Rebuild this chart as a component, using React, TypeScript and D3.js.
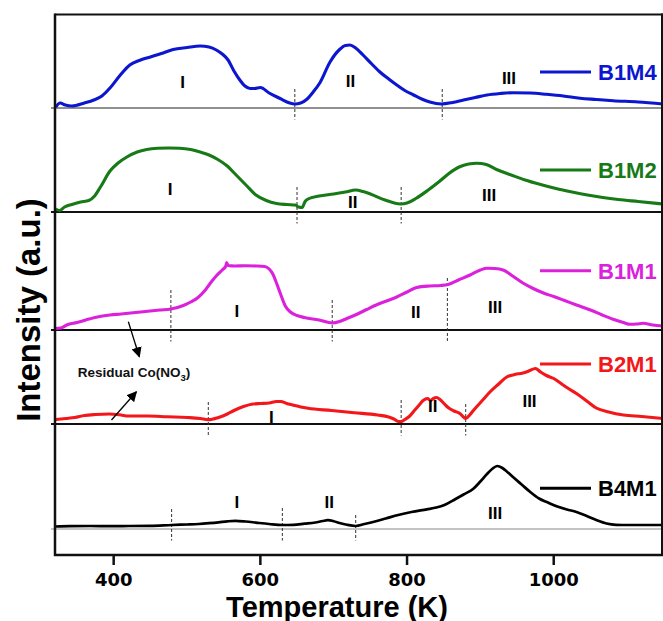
import React from 'react';
import * as d3 from 'd3';

type P = [number, number];

const seriesNames = ['B1M4', 'B1M2', 'B1M1', 'B2M1', 'B4M1'];
const seriesColors = ['#0c16cf', '#177a17', '#db21db', '#f2171a', '#000000'];
const baselineOffsets = [44.7, 34.3, 22.5, 13.1, 2.6];

const b1m4: P[] = [[321,0.1],[327,0.5],[334,0.3],[343,0.2],[360,0.5],[373,0.8],[384,1.2],[395,2.0],[408,3.2],[422,4.3],[435,4.75],[450,5.1],[465,5.45],[481,5.85],[500,6.05],[518,6.2],[530,6.1],[540,5.8],[548,5.4],[556,4.8],[564,3.7],[572,2.8],[579,2.2],[586,1.95],[592,1.95],[600,2.05],[612,1.5],[627,0.95],[640,0.5],[647,0.4],[655,0.5],[663,0.85],[672,1.6],[681,2.5],[695,4.6],[708,5.85],[716,6.25],[722,6.3],[730,6.0],[740,5.3],[752,4.4],[763,3.6],[775,2.9],[786,2.3],[797,1.75],[809,1.3],[820,0.9],[831,0.6],[847,0.4],[862,0.55],[877,0.8],[893,1.05],[909,1.3],[927,1.45],[945,1.53],[968,1.5],[990,1.37],[1013,1.2],[1036,0.97],[1058,0.85],[1081,0.73],[1115,0.6],[1149,0.4]];

const b1m2: P[] = [[321,0.3],[326,0.15],[333,0.5],[343,0.75],[355,1.0],[366,1.15],[374,1.6],[382,2.5],[395,4.1],[406,4.9],[418,5.5],[432,6.0],[445,6.25],[460,6.37],[475,6.4],[490,6.38],[505,6.25],[518,6.0],[530,5.7],[542,5.25],[554,4.65],[567,3.7],[581,2.65],[594,1.7],[608,1.15],[622,0.85],[636,0.75],[648,0.7],[652,0.5],[657,0.45],[661,1.05],[665,1.3],[680,1.6],[700,1.8],[716,2.0],[730,2.2],[740,2.05],[750,1.8],[770,1.2],[791,0.8],[800,0.9],[812,1.35],[828,2.15],[844,3.05],[858,3.9],[871,4.5],[884,4.8],[895,4.87],[908,4.75],[922,4.25],[942,3.7],[961,3.2],[982,2.75],[1003,2.35],[1025,2.0],[1046,1.7],[1067,1.45],[1088,1.25],[1115,1.05],[1149,0.8]];

const b1m1: P[] = [[320,0.15],[328,0.2],[336,0.5],[350,0.75],[362,1.0],[381,1.35],[395,1.5],[410,1.6],[437,1.8],[463,2.0],[478,2.1],[495,2.45],[505,2.8],[515,3.25],[525,4.0],[533,4.8],[541,5.5],[548,6.0],[553,6.4],[554,6.75],[556,6.45],[565,6.4],[580,6.42],[595,6.4],[606,6.35],[612,6.1],[617,5.6],[622,4.7],[628,3.5],[634,2.4],[641,1.8],[650,1.45],[660,1.25],[680,1.0],[698,0.7],[708,0.85],[718,1.15],[731,1.55],[745,2.05],[758,2.5],[772,2.9],[786,3.3],[800,3.8],[813,4.25],[831,4.4],[846,4.45],[856,4.55],[870,5.0],[886,5.5],[900,6.0],[909,6.17],[920,6.15],[931,6.0],[944,5.4],[958,4.7],[972,4.15],[986,3.7],[1000,3.35],[1013,3.0],[1031,2.5],[1050,2.0],[1066,1.5],[1081,1.07],[1095,0.75],[1104,0.57],[1113,0.6],[1122,0.67],[1135,0.5],[1149,0.4]];

const b2m1: P[] = [[321,0.45],[335,0.55],[347,0.65],[360,0.85],[375,0.95],[394,1.0],[410,0.9],[420,0.8],[447,0.8],[473,0.72],[500,0.65],[518,0.55],[529,0.42],[543,0.65],[555,1.0],[564,1.35],[577,1.75],[590,2.0],[600,2.05],[612,2.1],[622,2.25],[628,2.25],[636,2.05],[644,1.9],[655,1.7],[665,1.57],[697,1.35],[728,1.13],[760,0.9],[775,0.7],[782,0.5],[788,0.25],[792,0.25],[797,0.45],[803,0.75],[810,1.35],[816,1.85],[822,2.35],[828,2.55],[832,2.35],[836,2.55],[840,2.65],[845,2.45],[851,2.0],[856,1.65],[864,1.3],[872,1.05],[877,0.7],[880,0.55],[886,0.95],[891,1.4],[902,2.3],[913,3.2],[925,4.0],[936,4.7],[947,4.95],[958,5.1],[966,5.3],[975,5.55],[982,5.2],[990,4.85],[1000,4.55],[1010,4.05],[1020,3.55],[1031,3.05],[1045,2.3],[1058,1.6],[1075,1.2],[1095,0.9],[1120,0.75],[1149,0.55]];

const b4m1: P[] = [[320,0.25],[340,0.28],[368,0.3],[395,0.28],[421,0.3],[450,0.32],[479,0.4],[500,0.45],[516,0.5],[530,0.58],[543,0.67],[555,0.77],[566,0.82],[580,0.75],[596,0.62],[612,0.5],[630,0.4],[645,0.42],[660,0.53],[675,0.65],[685,0.8],[692,0.88],[700,0.78],[708,0.6],[718,0.42],[730,0.3],[742,0.5],[755,0.73],[771,1.05],[788,1.4],[806,1.7],[827,1.97],[840,2.15],[851,2.4],[865,2.95],[877,3.45],[890,4.0],[900,4.75],[909,5.5],[916,6.0],[923,6.3],[930,6.1],[936,5.75],[946,5.1],[957,4.4],[968,3.7],[980,3.05],[992,2.65],[1005,2.25],[1018,1.95],[1031,1.7],[1045,1.3],[1058,0.9],[1072,0.55],[1085,0.42],[1100,0.4],[1125,0.4],[1149,0.4]];

const seriesData: P[][] = [b1m4, b1m2, b1m1, b2m1, b4m1];

const xTicks = [400, 600, 800, 1000];

// region dividers per series: [temperature, top of dashed mark (a.u. above baseline)]
const dividers: P[][] = [
  [[647, 1.9], [848, 1.9]],
  [[650, 2.5], [792, 2.5]],
  [[478, 4.0], [698, 3.0], [855, 5.2]],
  [[529, 2.2], [792, 2.4], [880, 2.0]],
  [[479, 2.0], [630, 2.1], [730, 1.4]],
];

// region labels per series: [text, temperature, a.u. above baseline]
const regionLabels: [string, number, number][][] = [
  [['I', 494, 2.0], ['II', 723, 2.1], ['III', 939, 2.4]],
  [['I', 477, 1.7], ['II', 726, 0.37], ['III', 912, 1.1]],
  [['I', 568, 1.27], ['II', 812, 1.17], ['III', 920, 1.67]],
  [['I', 615, 0.1], ['II', 835, 1.23], ['III', 967, 1.73]],
  [['I', 568, 2.07], ['II', 694, 2.13], ['III', 920, 1.0]],
];

const legendLevels = [3.6, 4.2, 5.93, 6.0, 4.07];

const annotationText = 'Residual Co(NO';
const annotationPos: P = [351, 17.8];
const arrows: [P, P][] = [
  [[420, 23.33], [435, 19.83]],
  [[397, 13.5], [431, 16.33]],
];

export default function App() {
  const x = d3.scaleLinear().domain([320, 1149]).range([55, 663]);
  const y = d3.scaleLinear().domain([0, 54.1]).range([555, 14]);
  const font = "'Liberation Sans', Arial, sans-serif";

  const baseStyles = [
    { w: 1.2, c: '#222' },
    { w: 2, c: '#111' },
    { w: 2, c: '#111' },
    { w: 2, c: '#111' },
    { w: 1, c: '#888' },
  ];

  return (
    <svg
      width={663}
      height={621}
      style={{ position: 'absolute', left: 0, top: 0, background: '#fff' }}
      fontFamily={font}
    >
      <defs>
        <marker id="ah" viewBox="0 0 10 10" refX="9" refY="5" markerWidth="8" markerHeight="8" orient="auto">
          <path d="M0,0 L10,5 L0,10 z" fill="#000" />
        </marker>
        <clipPath id="plot">
          <rect x={55} y={14} width={608} height={541} />
        </clipPath>
      </defs>

      {/* baselines */}
      {baselineOffsets.map((o, i) => (
        <line key={'b' + i} x1={51} x2={663} y1={y(o)} y2={y(o)} stroke={baseStyles[i].c} strokeWidth={baseStyles[i].w} />
      ))}

      {/* dividers */}
      {dividers.map((ds, i) =>
        ds.map((d, j) => (
          <line
            key={`d${i}-${j}`}
            x1={x(d[0])}
            x2={x(d[0])}
            y1={y(baselineOffsets[i] + d[1])}
            y2={y(baselineOffsets[i] - 1.15)}
            stroke="#333"
            strokeWidth={1}
            strokeDasharray="3,2"
          />
        ))
      )}

      {/* curves */}
      <g clipPath="url(#plot)">
        {seriesData.map((s, i) => {
          const line = d3
            .line<P>()
            .x((d) => x(d[0]))
            .y((d) => y(baselineOffsets[i] + d[1]))
            .curve(d3.curveMonotoneX);
          return (
            <path
              key={'s' + i}
              d={line(s) || ''}
              fill="none"
              stroke={seriesColors[i]}
              strokeWidth={i === 4 ? 2.7 : 3.1}
              strokeLinejoin="round"
            />
          );
        })}
      </g>

      {/* region labels */}
      {regionLabels.map((ls, i) =>
        ls.map((l, j) => (
          <text
            key={`l${i}-${j}`}
            x={x(l[1])}
            y={y(baselineOffsets[i] + l[2])}
            textAnchor="middle"
            fontSize={17}
            fontWeight="bold"
            fill="#000"
          >
            {l[0]}
          </text>
        ))
      )}

      {/* legends */}
      {seriesNames.map((n, i) => {
        const ly = y(baselineOffsets[i] + legendLevels[i]);
        return (
          <g key={'lg' + i}>
            <line x1={540} x2={591} y1={ly} y2={ly} stroke={seriesColors[i]} strokeWidth={3} />
            <text x={598} y={ly + 8} fontSize={22} fontWeight="bold" fill={seriesColors[i]}>
              {n}
            </text>
          </g>
        );
      })}

      {/* annotation */}
      <text x={x(annotationPos[0])} y={y(annotationPos[1])} fontSize={13.5} fontWeight="bold" fill="#111">
        {annotationText}
        <tspan fontSize={9.5} dy={4}>3</tspan>
        <tspan dy={-4}>)</tspan>
      </text>
      {arrows.map((a, i) => (
        <line
          key={'a' + i}
          x1={x(a[0][0])}
          y1={y(a[0][1])}
          x2={x(a[1][0])}
          y2={y(a[1][1])}
          stroke="#000"
          strokeWidth={1.3}
          markerEnd="url(#ah)"
        />
      ))}

      {/* frame */}
      <line x1={55} x2={663} y1={14.5} y2={14.5} stroke="#111" strokeWidth={2.2} />
      <line x1={55} x2={55} y1={13.5} y2={556} stroke="#111" strokeWidth={2.5} />
      <line x1={662} x2={662} y1={13.5} y2={556} stroke="#111" strokeWidth={2} />
      <line x1={54} x2={663} y1={555} y2={555} stroke="#111" strokeWidth={2.5} />

      {/* x ticks */}
      {xTicks.map((t) => (
        <g key={'t' + t}>
          <line x1={x(t)} x2={x(t)} y1={555} y2={565} stroke="#111" strokeWidth={2.5} />
          <text
            x={x(t)}
            y={586}
            textAnchor="middle"
            fontSize={18}
            fontWeight="bold"
            fontFamily="'DejaVu Sans', Verdana, sans-serif"
            fill="#000"
          >
            {t}
          </text>
        </g>
      ))}

      <text x={337} y={616.5} textAnchor="middle" fontSize={29} fontWeight="bold" fill="#000">
        Temperature (K)
      </text>
      <text
        transform="translate(40,310) rotate(-90)"
        textAnchor="middle"
        fontSize={33}
        fontWeight="bold"
        fill="#000"
      >
        Intensity (a.u.)
      </text>
    </svg>
  );
}
